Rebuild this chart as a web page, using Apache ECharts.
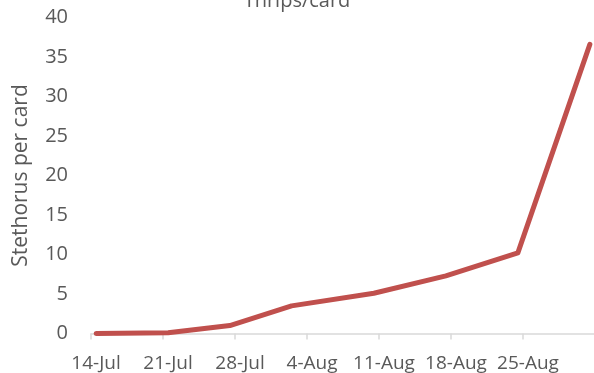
<!DOCTYPE html>
<html>
<head>
<meta charset="utf-8">
<script src="https://cdn.jsdelivr.net/npm/echarts@6/dist/echarts.min.js"></script>
<style>
  html, body { margin: 0; padding: 0; background: #ffffff; }
  #chart { width: 594px; height: 373px; }
</style>
</head>
<body>
<div id="chart"></div>
<script>
// Sampling dates and Stethorus counts per card
const sampleDates = ['2015-07-14', '2015-07-21', '2015-07-27', '2015-08-02', '2015-08-10', '2015-08-17', '2015-08-24', '2015-08-31'];
const stethorusPerCard = [0, 0.1, 1.0, 3.5, 5.1, 7.3, 10.2, 36.6];
// Weekly axis labels, one per tick starting at the first sampling date
const weekLabels = ['14-Jul', '21-Jul', '28-Jul', '4-Aug', '11-Aug', '18-Aug', '25-Aug', '1-Sep'];
const yTicks = { min: 0, max: 40, step: 5 };

const DAY = 86400000;
const start = Date.parse(sampleDates[0]);
// Day axis: ticks sit on day boundaries, each sample at the middle of its day
const points = sampleDates.map((d, i) => [(Date.parse(d) - start) / DAY + 0.5, stethorusPerCard[i]]);

const textColor = '#595959';
const font = '"Open Sans", "Liberation Sans", sans-serif';

const chart = echarts.init(document.getElementById('chart'), null, { renderer: 'canvas' });
chart.setOption({
  backgroundColor: '#ffffff',
  animation: false,
  title: {
    text: 'Thrips/card',
    left: 'center',
    top: -14,
    textStyle: { color: textColor, fontFamily: font, fontSize: 20, fontWeight: 'normal' }
  },
  grid: { left: 91, right: -1, top: 17.5, bottom: 39.5, outerBoundsMode: 'none', containLabel: false },
  xAxis: {
    type: 'value',
    min: 0,
    max: 49,
    interval: 7,
    axisLine: { show: true, lineStyle: { color: '#d9d9d9', width: 1.5 } },
    axisTick: { show: true, length: 6, lineStyle: { color: '#d9d9d9', width: 1.5 } },
    splitLine: { show: false },
    axisLabel: {
      color: textColor,
      fontFamily: font,
      fontSize: 19,
      margin: 21,
      padding: [0, 0, 0, 10],
      showMaxLabel: false,
      formatter: v => weekLabels[Math.round(v / 7)] || ''
    }
  },
  yAxis: {
    type: 'value',
    min: yTicks.min,
    max: yTicks.max,
    interval: yTicks.step,
    name: 'Stethorus per card',
    nameLocation: 'middle',
    nameRotate: 90,
    nameGap: 59,
    nameTextStyle: { color: textColor, fontFamily: font, fontSize: 21 },
    axisLine: { show: false },
    axisTick: { show: false },
    splitLine: { show: false },
    axisLabel: { color: textColor, fontFamily: font, fontSize: 20, margin: 23, padding: [3, 0, 0, 0] }
  },
  series: [{
    type: 'line',
    data: points,
    symbol: 'none',
    smooth: false,
    lineStyle: { color: '#c0504d', width: 5, cap: 'round', join: 'round' }
  }]
});
</script>
</body>
</html>
